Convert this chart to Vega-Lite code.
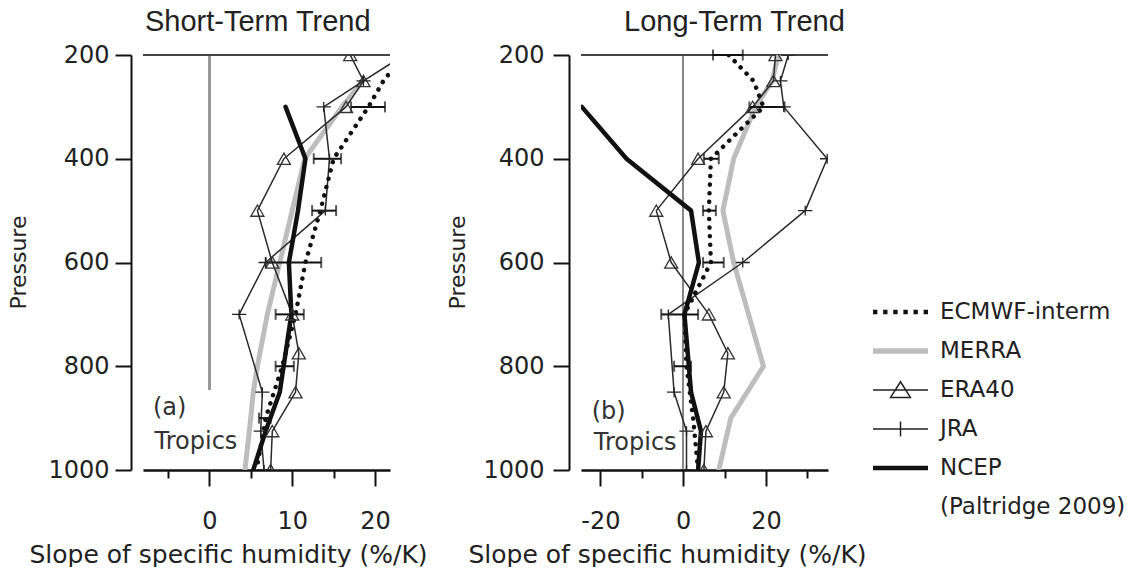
{
  "$schema": "https://vega.github.io/schema/vega-lite/v6.json",
  "background": "white",
  "padding": {"left": 7, "top": 8, "right": 0, "bottom": 0},
  "config": {
    "view": {"stroke": null},
    "font": "DejaVu Sans",
    "title": {"font": "Liberation Sans", "fontSize": 29, "fontWeight": "normal", "color": "#222", "anchor": "start", "frame": "group", "baseline": "alphabetic", "offset": 6},
    "axis": {"labelFont": "DejaVu Sans", "labelFontSize": 24, "labelColor": "#222", "titleFont": "DejaVu Sans", "titleFontSize": 25, "titleFontWeight": "normal", "titleColor": "#222", "domainColor": "#111", "domainWidth": 2.5, "tickColor": "#111", "tickWidth": 2, "grid": false}
  },
  "datasets": {
    "left": [
      {"s": "ECMWF-interm", "p": 200, "x": 23.5}, {"s": "ECMWF-interm", "p": 250, "x": 21}, {"s": "ECMWF-interm", "p": 300, "x": 19.2}, {"s": "ECMWF-interm", "p": 400, "x": 15}, {"s": "ECMWF-interm", "p": 500, "x": 13.4}, {"s": "ECMWF-interm", "p": 600, "x": 11.6}, {"s": "ECMWF-interm", "p": 700, "x": 10.4}, {"s": "ECMWF-interm", "p": 800, "x": 8.8}, {"s": "ECMWF-interm", "p": 900, "x": 6.8}, {"s": "ECMWF-interm", "p": 1000, "x": 5.7},
      {"s": "MERRA", "p": 250, "x": 18.5}, {"s": "MERRA", "p": 300, "x": 16}, {"s": "MERRA", "p": 400, "x": 11.5}, {"s": "MERRA", "p": 500, "x": 10}, {"s": "MERRA", "p": 600, "x": 8.5}, {"s": "MERRA", "p": 700, "x": 7}, {"s": "MERRA", "p": 800, "x": 5.8}, {"s": "MERRA", "p": 850, "x": 5.3}, {"s": "MERRA", "p": 900, "x": 5}, {"s": "MERRA", "p": 1000, "x": 4.3},
      {"s": "ERA40", "p": 200, "x": 17}, {"s": "ERA40", "p": 250, "x": 18.6}, {"s": "ERA40", "p": 300, "x": 16.5}, {"s": "ERA40", "p": 400, "x": 9}, {"s": "ERA40", "p": 500, "x": 5.8}, {"s": "ERA40", "p": 600, "x": 7.6}, {"s": "ERA40", "p": 700, "x": 10}, {"s": "ERA40", "p": 775, "x": 10.8}, {"s": "ERA40", "p": 850, "x": 10.4}, {"s": "ERA40", "p": 925, "x": 7.6}, {"s": "ERA40", "p": 1000, "x": 7.4},
      {"s": "JRA", "p": 200, "x": 23.5}, {"s": "JRA", "p": 250, "x": 18.6}, {"s": "JRA", "p": 300, "x": 13.8}, {"s": "JRA", "p": 400, "x": 14.5}, {"s": "JRA", "p": 500, "x": 14}, {"s": "JRA", "p": 600, "x": 6.8}, {"s": "JRA", "p": 700, "x": 3.6}, {"s": "JRA", "p": 850, "x": 6.4}, {"s": "JRA", "p": 925, "x": 6.2}, {"s": "JRA", "p": 1000, "x": 6.6},
      {"s": "NCEP", "p": 300, "x": 9.2}, {"s": "NCEP", "p": 400, "x": 11.6}, {"s": "NCEP", "p": 500, "x": 10.7}, {"s": "NCEP", "p": 600, "x": 9.6}, {"s": "NCEP", "p": 700, "x": 9.9}, {"s": "NCEP", "p": 850, "x": 8.5}, {"s": "NCEP", "p": 925, "x": 6.8}, {"s": "NCEP", "p": 1000, "x": 5.3}
    ],
    "right": [
      {"s": "ECMWF-interm", "p": 200, "x": 11}, {"s": "ECMWF-interm", "p": 250, "x": 17}, {"s": "ECMWF-interm", "p": 300, "x": 19.4}, {"s": "ECMWF-interm", "p": 400, "x": 6.7}, {"s": "ECMWF-interm", "p": 500, "x": 6.2}, {"s": "ECMWF-interm", "p": 600, "x": 6.7}, {"s": "ECMWF-interm", "p": 700, "x": 0.3}, {"s": "ECMWF-interm", "p": 800, "x": 0.8}, {"s": "ECMWF-interm", "p": 900, "x": 2.4}, {"s": "ECMWF-interm", "p": 1000, "x": 3.6},
      {"s": "MERRA", "p": 200, "x": 23}, {"s": "MERRA", "p": 250, "x": 21.5}, {"s": "MERRA", "p": 300, "x": 17.5}, {"s": "MERRA", "p": 400, "x": 12.2}, {"s": "MERRA", "p": 500, "x": 9.6}, {"s": "MERRA", "p": 600, "x": 12.2}, {"s": "MERRA", "p": 700, "x": 15.8}, {"s": "MERRA", "p": 800, "x": 19.4}, {"s": "MERRA", "p": 900, "x": 11.5}, {"s": "MERRA", "p": 1000, "x": 8.6},
      {"s": "ERA40", "p": 200, "x": 22.3}, {"s": "ERA40", "p": 250, "x": 21.8}, {"s": "ERA40", "p": 300, "x": 16.8}, {"s": "ERA40", "p": 400, "x": 3.6}, {"s": "ERA40", "p": 500, "x": -6.5}, {"s": "ERA40", "p": 600, "x": -2.9}, {"s": "ERA40", "p": 700, "x": 6.2}, {"s": "ERA40", "p": 775, "x": 10.8}, {"s": "ERA40", "p": 850, "x": 9.8}, {"s": "ERA40", "p": 925, "x": 5.5}, {"s": "ERA40", "p": 1000, "x": 5},
      {"s": "JRA", "p": 200, "x": 25.4}, {"s": "JRA", "p": 250, "x": 23.5}, {"s": "JRA", "p": 300, "x": 24.3}, {"s": "JRA", "p": 400, "x": 34.8}, {"s": "JRA", "p": 500, "x": 29.5}, {"s": "JRA", "p": 600, "x": 14.4}, {"s": "JRA", "p": 700, "x": -3.6}, {"s": "JRA", "p": 850, "x": -2.2}, {"s": "JRA", "p": 925, "x": 0.8}, {"s": "JRA", "p": 1000, "x": 0.8},
      {"s": "NCEP", "p": 300, "x": -24.5}, {"s": "NCEP", "p": 400, "x": -13.7}, {"s": "NCEP", "p": 500, "x": 1.9}, {"s": "NCEP", "p": 600, "x": 3.8}, {"s": "NCEP", "p": 700, "x": 0.3}, {"s": "NCEP", "p": 850, "x": 1.9}, {"s": "NCEP", "p": 925, "x": 4.3}, {"s": "NCEP", "p": 1000, "x": 3.6}
    ],
    "leftbars": [
      {"p": 300, "lo": 17.1, "hi": 21.2}, {"p": 400, "lo": 12.6, "hi": 15.9}, {"p": 500, "lo": 12.4, "hi": 15.3}, {"p": 600, "lo": 6.8, "hi": 13.5}, {"p": 700, "lo": 8.0, "hi": 11.4}, {"p": 800, "lo": 8.0, "hi": 10.2}, {"p": 900, "lo": 6.0, "hi": 7.4}
    ],
    "rightbars": [
      {"p": 200, "lo": 7.2, "hi": 14.4}, {"p": 300, "lo": 16, "hi": 24.5}, {"p": 400, "lo": 5, "hi": 8.6}, {"p": 500, "lo": 4.8, "hi": 7.9}, {"p": 600, "lo": 4.8, "hi": 9.8}, {"p": 700, "lo": -5.3, "hi": 3.6}, {"p": 800, "lo": -2.2, "hi": 1.9}
    ],
    "leftnotes": [{"t": "(a)", "x": -6.8, "p": 881}, {"t": "Tropics", "x": -6.6, "p": 946}],
    "rightnotes": [{"t": "(b)", "x": -22.1, "p": 888}, {"t": "Tropics", "x": -21.6, "p": 948}],
    "legend": [{"s": "ECMWF-interm"}, {"s": "MERRA"}, {"s": "ERA40"}, {"s": "JRA"}, {"s": "NCEP"}, {"s": "(Paltridge 2009)"}]
  },
  "spacing": 18,
  "hconcat": [
    {
      "title": {"text": "Short-Term Trend", "dx": 2},
      "width": 247,
      "height": 415,
      "data": {"name": "left"},
      "resolve": {"axis": {"x": "independent"}},
      "encoding": {
        "y": {"field": "p", "type": "quantitative", "scale": {"domain": [200, 1000], "reverse": true, "nice": false, "zero": false},
              "axis": {"values": [200, 400, 600, 800, 1000], "format": "d", "offset": 12, "tickSize": 16, "labelPadding": 6, "domainWidth": 2, "title": "Pressure", "titleFontSize": 22, "titleX": -113, "titleY": 207, "titleAngle": -90, "titleAlign": "center", "titleBaseline": "middle"}}
      },
      "layer": [
        {
          "mark": {"type": "rule", "color": "#999", "strokeWidth": 2},
          "encoding": {
            "x": {"datum": 0, "type": "quantitative", "scale": {"domain": [-8, 21.8], "nice": false, "zero": false}, "axis": null},
            "y": {"datum": 200, "type": "quantitative"},
            "y2": {"datum": 845}
          }
        },
        {
          "mark": {"type": "rule", "color": "#444", "strokeWidth": 2},
          "encoding": {
            "y": {"datum": 200, "type": "quantitative"}
          }
        },
        {
          "transform": [{"filter": "datum.s === 'MERRA'"}],
          "mark": {"type": "line", "clip": true, "color": "#bdbdbd", "strokeWidth": 5, "strokeCap": "round", "strokeJoin": "round"},
          "encoding": {
            "x": {"field": "x", "type": "quantitative", "scale": {"domain": [-8, 21.8], "nice": false, "zero": false},
                  "axis": {"orient": "bottom", "values": [0, 10, 20], "tickSize": 16, "labelPadding": 23, "labelExpr": "datum.value < 0 ? '-' + abs(datum.value) : datum.label", "title": "Slope of specific humidity (%/K)", "titleX": 85, "titleY": 84, "titleBaseline": "middle", "titleAlign": "center"}},
            "order": {"field": "p", "type": "quantitative"}
          }
        },
        {
          "transform": [{"filter": "datum.s === 'ERA40' || datum.s === 'JRA'"}],
          "mark": {"type": "line", "clip": true, "color": "#2a2a2a", "strokeWidth": 1.5, "strokeJoin": "round"},
          "encoding": {
            "x": {"field": "x", "type": "quantitative", "scale": {"domain": [-8, 21.8], "nice": false, "zero": false},
                  "axis": {"orient": "bottom", "values": [-5, 5, 15], "tickSize": 8, "labels": false, "domain": false, "title": null}},
            "detail": {"field": "s"},
            "order": {"field": "p", "type": "quantitative"}
          }
        },
        {
          "transform": [{"filter": "datum.s === 'ECMWF-interm'"}],
          "mark": {"type": "line", "clip": true, "color": "#111", "strokeWidth": 4.5, "strokeCap": "round", "strokeDash": [0.1, 8.5]},
          "encoding": {
            "x": {"field": "x", "type": "quantitative", "scale": {"domain": [-8, 21.8], "nice": false, "zero": false}, "axis": null},
            "order": {"field": "p", "type": "quantitative"}
          }
        },
        {
          "transform": [{"filter": "datum.s === 'NCEP'"}],
          "mark": {"type": "line", "clip": true, "color": "#111", "strokeWidth": 4.5, "strokeCap": "round", "strokeJoin": "round"},
          "encoding": {
            "x": {"field": "x", "type": "quantitative", "scale": {"domain": [-8, 21.8], "nice": false, "zero": false}, "axis": null},
            "order": {"field": "p", "type": "quantitative"}
          }
        },
        {
          "data": {"name": "leftbars"},
          "mark": {"type": "errorbar", "ticks": {"size": 11}, "thickness": 2, "color": "#111"},
          "encoding": {
            "x": {"field": "lo", "type": "quantitative", "scale": {"domain": [-8, 21.8], "nice": false, "zero": false}, "axis": null},
            "x2": {"field": "hi"}
          }
        },
        {
          "transform": [{"filter": "datum.s === 'ERA40'"}],
          "mark": {"type": "point", "clip": true, "shape": "triangle-up", "size": 170, "filled": false, "stroke": "#333", "strokeWidth": 1.3, "opacity": 1},
          "encoding": {
            "x": {"field": "x", "type": "quantitative", "scale": {"domain": [-8, 21.8], "nice": false, "zero": false}, "axis": null}
          }
        },
        {
          "transform": [{"filter": "datum.s === 'JRA'"}],
          "mark": {"type": "point", "clip": true, "shape": "M-1,0H1M0,-0.7V0.7", "size": 200, "filled": false, "stroke": "#222", "strokeWidth": 1.3, "opacity": 1},
          "encoding": {
            "x": {"field": "x", "type": "quantitative", "scale": {"domain": [-8, 21.8], "nice": false, "zero": false}, "axis": null}
          }
        },
        {
          "data": {"name": "leftnotes"},
          "mark": {"type": "text", "align": "left", "baseline": "middle", "fontSize": 24, "font": "DejaVu Sans", "color": "#333"},
          "encoding": {
            "x": {"field": "x", "type": "quantitative", "scale": {"domain": [-8, 21.8], "nice": false, "zero": false}, "axis": null},
            "text": {"field": "t"}
          }
        }
      ]
    },
    {
      "title": {"text": "Long-Term Trend", "dx": 43},
      "width": 247,
      "height": 415,
      "data": {"name": "right"},
      "resolve": {"axis": {"x": "independent"}},
      "encoding": {
        "y": {"field": "p", "type": "quantitative", "scale": {"domain": [200, 1000], "reverse": true, "nice": false, "zero": false},
              "axis": {"values": [200, 400, 600, 800, 1000], "format": "d", "offset": 12, "tickSize": 16, "labelPadding": 9, "domainWidth": 2, "title": "Pressure", "titleFontSize": 22, "titleX": -112, "titleY": 207, "titleAngle": -90, "titleAlign": "center", "titleBaseline": "middle"}}
      },
      "layer": [
        {
          "mark": {"type": "rule", "color": "#888", "strokeWidth": 1.5},
          "encoding": {
            "x": {"datum": 0, "type": "quantitative", "scale": {"domain": [-24.7, 35], "nice": false, "zero": false}, "axis": null},
            "y": {"datum": 200, "type": "quantitative"},
            "y2": {"datum": 1000}
          }
        },
        {
          "mark": {"type": "rule", "color": "#444", "strokeWidth": 2},
          "encoding": {
            "y": {"datum": 200, "type": "quantitative"}
          }
        },
        {
          "transform": [{"filter": "datum.s === 'MERRA'"}],
          "mark": {"type": "line", "clip": true, "color": "#bdbdbd", "strokeWidth": 5, "strokeCap": "round", "strokeJoin": "round"},
          "encoding": {
            "x": {"field": "x", "type": "quantitative", "scale": {"domain": [-24.7, 35], "nice": false, "zero": false},
                  "axis": {"orient": "bottom", "values": [-20, 0, 20], "tickSize": 16, "labelPadding": 23, "labelExpr": "datum.value < 0 ? '-' + abs(datum.value) : datum.label", "title": "Slope of specific humidity (%/K)", "titleX": 86, "titleY": 84, "titleBaseline": "middle", "titleAlign": "center"}},
            "order": {"field": "p", "type": "quantitative"}
          }
        },
        {
          "transform": [{"filter": "datum.s === 'ERA40' || datum.s === 'JRA'"}],
          "mark": {"type": "line", "clip": true, "color": "#2a2a2a", "strokeWidth": 1.5, "strokeJoin": "round"},
          "encoding": {
            "x": {"field": "x", "type": "quantitative", "scale": {"domain": [-24.7, 35], "nice": false, "zero": false},
                  "axis": {"orient": "bottom", "values": [-10, 10, 30], "tickSize": 8, "labels": false, "domain": false, "title": null}},
            "detail": {"field": "s"},
            "order": {"field": "p", "type": "quantitative"}
          }
        },
        {
          "transform": [{"filter": "datum.s === 'ECMWF-interm'"}],
          "mark": {"type": "line", "clip": true, "color": "#111", "strokeWidth": 4.5, "strokeCap": "round", "strokeDash": [0.1, 8.5]},
          "encoding": {
            "x": {"field": "x", "type": "quantitative", "scale": {"domain": [-24.7, 35], "nice": false, "zero": false}, "axis": null},
            "order": {"field": "p", "type": "quantitative"}
          }
        },
        {
          "transform": [{"filter": "datum.s === 'NCEP'"}],
          "mark": {"type": "line", "clip": true, "color": "#111", "strokeWidth": 4.5, "strokeCap": "round", "strokeJoin": "round"},
          "encoding": {
            "x": {"field": "x", "type": "quantitative", "scale": {"domain": [-24.7, 35], "nice": false, "zero": false}, "axis": null},
            "order": {"field": "p", "type": "quantitative"}
          }
        },
        {
          "data": {"name": "rightbars"},
          "mark": {"type": "errorbar", "ticks": {"size": 11}, "thickness": 2, "color": "#111"},
          "encoding": {
            "x": {"field": "lo", "type": "quantitative", "scale": {"domain": [-24.7, 35], "nice": false, "zero": false}, "axis": null},
            "x2": {"field": "hi"}
          }
        },
        {
          "transform": [{"filter": "datum.s === 'ERA40'"}],
          "mark": {"type": "point", "clip": true, "shape": "triangle-up", "size": 170, "filled": false, "stroke": "#333", "strokeWidth": 1.3, "opacity": 1},
          "encoding": {
            "x": {"field": "x", "type": "quantitative", "scale": {"domain": [-24.7, 35], "nice": false, "zero": false}, "axis": null}
          }
        },
        {
          "transform": [{"filter": "datum.s === 'JRA'"}],
          "mark": {"type": "point", "clip": true, "shape": "M-1,0H1M0,-0.7V0.7", "size": 200, "filled": false, "stroke": "#222", "strokeWidth": 1.3, "opacity": 1},
          "encoding": {
            "x": {"field": "x", "type": "quantitative", "scale": {"domain": [-24.7, 35], "nice": false, "zero": false}, "axis": null}
          }
        },
        {
          "data": {"name": "rightnotes"},
          "mark": {"type": "text", "align": "left", "baseline": "middle", "fontSize": 24, "font": "DejaVu Sans", "color": "#333"},
          "encoding": {
            "x": {"field": "x", "type": "quantitative", "scale": {"domain": [-24.7, 35], "nice": false, "zero": false}, "axis": null},
            "text": {"field": "t"}
          }
        },
        {
          "data": {"name": "legend"},
          "mark": {"type": "point", "opacity": 0, "size": 3025},
          "encoding": {
            "y": {"datum": 200, "type": "quantitative"},
            "shape": {"field": "s", "type": "nominal",
              "scale": {"domain": ["ECMWF-interm", "MERRA", "ERA40", "JRA", "NCEP", "(Paltridge 2009)"],
                        "range": ["M-1,-0.08h0.16v0.16h-0.16z M-0.632,-0.08h0.16v0.16h-0.16z M-0.264,-0.08h0.16v0.16h-0.16z M0.104,-0.08h0.16v0.16h-0.16z M0.472,-0.08h0.16v0.16h-0.16z M0.84,-0.08h0.16v0.16h-0.16z",
                                  "M-1,-0.1H1V0.1H-1Z",
                                  "M-1,0H1M0,-0.3L0.36,0.27H-0.36Z",
                                  "M-1,0H1M0,-0.27V0.27",
                                  "M-1,-0.08H1V0.08H-1Z",
                                  "M0,0Z"]},
              "legend": {"title": null, "orient": "none", "legendX": 729, "legendY": 245, "clipHeight": 24, "rowPadding": 15, "labelOffset": 11, "labelFont": "DejaVu Sans", "labelFontSize": 23, "labelColor": "#222", "labelLimit": 400, "symbolSize": 3025, "symbolStrokeWidth": 1.5, "symbolFillColor": "#111111", "padding": 0}},
            "fill": {"field": "s", "type": "nominal",
              "scale": {"domain": ["ECMWF-interm", "MERRA", "ERA40", "JRA", "NCEP", "(Paltridge 2009)"],
                        "range": ["#111111", "#bdbdbd", "transparent", "transparent", "#111111", "transparent"]},
              "legend": {"title": null, "orient": "none", "legendX": 729, "legendY": 245, "clipHeight": 24, "rowPadding": 15, "labelOffset": 11, "labelFont": "DejaVu Sans", "labelFontSize": 23, "labelColor": "#222", "labelLimit": 400, "symbolSize": 3025, "symbolStrokeWidth": 1.5, "symbolFillColor": "#111111", "padding": 0}},
            "stroke": {"field": "s", "type": "nominal",
              "scale": {"domain": ["ECMWF-interm", "MERRA", "ERA40", "JRA", "NCEP", "(Paltridge 2009)"],
                        "range": ["transparent", "transparent", "#222222", "#222222", "transparent", "transparent"]},
              "legend": {"title": null, "orient": "none", "legendX": 729, "legendY": 245, "clipHeight": 24, "rowPadding": 15, "labelOffset": 11, "labelFont": "DejaVu Sans", "labelFontSize": 23, "labelColor": "#222", "labelLimit": 400, "symbolSize": 3025, "symbolStrokeWidth": 1.5, "symbolFillColor": "#111111", "padding": 0}}
          }
        }
      ]
    }
  ]
}
